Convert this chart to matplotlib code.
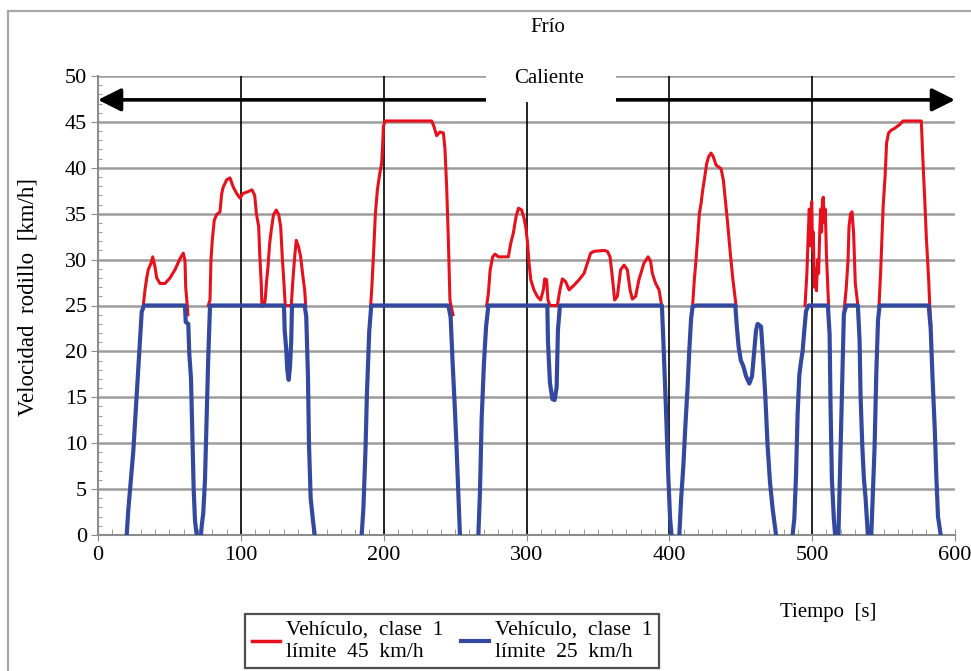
import numpy as np
import matplotlib.pyplot as plt
from matplotlib.lines import Line2D
from matplotlib.patches import Rectangle

plt.rcParams['font.family'] = ['Liberation Serif', 'DejaVu Serif']

# Vehicle class 1, speed limit 45 km/h (only the part above 25 km/h shows)
nan = np.nan
red_t = [31.7, 32.9, 34.1, 35.2, 37.1, 38.3, 39.9, 41.1, 43.4, 46.9, 50.4, 53.9, 57.4, 59.7, 60.9, 61.4, 62.5, 62.9, nan,
         77.2, 78.4, 79.1, 80.0, 81.4, 83.1, 85.4, 86.6, 87.7, 90.1, 92.4, 94.7, 97.1, 99.4, 101.5, 105.0, 107.8,
         109.7, 110.9, 112.5, 113.2, 114.3, 114.8, 116.5, 117.2, 117.9, 119.0, 120.2, 121.3, 122.9, 124.8, 126.5,
         127.9, 129.0, 130.2, 131.1, 135.3, 136.5, 137.7, 138.8, 140.4, 141.9, 143.5, 144.7, 145.4, nan,
         190.9, 191.8, 193.2, 194.2, 195.6, 197.2, 198.6, 199.3, 199.8, 201.0, 233.6, 235.2, 237.1, 239.4, 241.8,
         242.9, 244.1, 245.3, 246.4, 247.1, 248.5, nan,
         272.1, 273.3, 274.5, 276.3, 278.0, 280.3, 287.3, 289.0, 290.8, 292.7, 294.4, 296.6, 298.3, 299.5, 300.6,
         301.8, 303.0, 305.2, 307.5, 309.9, 311.8, 312.7, 314.1, 315.0, 316.4, 321.6, 323.4, 325.1, 327.4, 329.8,
         333.2, 336.8, 340.3, 342.6, 344.9, 347.3, 354.3, 356.6, 358.5, 360.1, 361.7, 363.6, 365.9, 368.3, 370.6,
         372.5, 374.1, 376.4, 378.7, 382.2, 385.1, 386.9, 388.1, 390.4, 392.8, 394.4, nan,
         416.3, 417.5, 418.7, 419.9, 421.0, 422.2, 423.4, 424.5, 426.2, 427.5, 429.2, 430.8, 432.7, 436.2, 437.8,
         439.2, 440.8, 442.5, 444.3, 446.0, 446.7, nan,
         495.0, 496.3, 497.3, 498.0, 498.5, 499.1, 499.7, 500.3, 500.8, 501.5, 502.3, 503.0, 503.8, 504.5, 505.3,
         506.0, 506.6, 507.2, 507.8, 508.5, 509.2, 510.0, 510.8, 511.5, nan,
         522.2, 523.9, 525.1, 525.8, 526.9, 527.9, 529.0, 530.2, 532.0, nan,
         546.8, 547.9, 548.8, 549.7, 551.1, 552.1, 553.5, 555.4, 557.7, 561.2, 563.6, 576.4, 577.6, 578.8, 579.9,
         581.6, 582.3, 583.2]
red_v = [25, 26.7, 28, 28.9, 29.6, 30.3, 29.2, 28, 27.4, 27.4, 28, 28.9, 30.1, 30.7, 29.9, 27, 25, 24, nan,
         25, 25.6, 30, 32.1, 34.3, 34.9, 35.2, 37.2, 37.9, 38.7, 38.9, 37.9, 37.2, 36.7, 37.2, 37.4, 37.6,
         37.0, 35.0, 33.6, 30.7, 27.4, 24.9, 25, 25.9, 27.4, 29.2, 31.8, 33.2, 34.9, 35.4, 34.9,
         33.6, 30.3, 27.4, 25, 25, 27.9, 30.3, 32.1, 31.4, 30.3, 28.1, 26.7, 25, nan,
         25, 27.2, 31.6, 35.0, 37.6, 39.3, 40.5, 42.5, 44.5, 45.1, 45.1, 44.5, 43.5, 43.9, 43.8,
         42.1, 37.9, 32.1, 25.6, 25, 24, nan,
         25, 26.3, 28.8, 30.3, 30.6, 30.3, 30.3, 31.8, 32.9, 34.7, 35.6, 35.4, 34.5, 33.5, 32,
         29.6, 27.8, 26.7, 26.0, 25.6, 26.7, 27.9, 27.8, 25.6, 25, 25, 26.7, 27.9, 27.6, 26.7,
         27.2, 27.8, 28.5, 29.6, 30.7, 30.9, 31.0, 30.9, 30.3, 28.1, 25.6, 26, 28.9, 29.4, 28.9,
         26.7, 25.7, 26.0, 27.8, 29.6, 30.3, 29.8, 28.5, 27.4, 26.7, 25.2, nan,
         25, 27.8, 30, 32.5, 35, 36.1, 37.6, 38.7, 40.5, 41.2, 41.6, 41.2, 40.3, 39.9, 38.7,
         36.5, 34, 31, 28.1, 25.9, 25, nan,
         25, 28.5, 33, 35.5, 31.5, 35, 36.3, 31, 33, 27, 29, 26.6, 30, 28.5, 33,
         35.5, 33, 36.5, 36.8, 34, 35.5, 30.5, 27.5, 25, nan,
         24.1, 27, 29.9, 33.6, 35, 35.2, 32.9, 27.4, 25, nan,
         25, 28.5, 32.1, 35.8, 39.2, 42.7, 43.8, 44.1, 44.3, 44.7, 45.1, 45.1, 40.6, 36.6, 32.5,
         27.7, 25, 22.8]

# Vehicle class 1, speed limit 25 km/h
blue_t = [20.1, 21.2, 22.9, 24.7, 25.9, 27.1, 28.2, 29.4, 30.6, 32.2, 60.9, 61.4, 63.2, 63.9, 65.1, 66.0, 67.0,
          67.9, 69.1, nan,
          72.1, 72.6, 73.7, 74.9, 76.1, 77.2, 78.4, 79.0, 130.2, 130.7, 131.8, 132.5, 133.5, 134.4, 135.3, 135.8,
          144.7, 145.8, 147.0, 147.7, 148.9, 150.5, 151.7, nan,
          184.6, 185.8, 187.3, 188.3, 189.9, 191.3, 245.3, 246.9, 248.3, 249.9, 251.1, 252.3, 253.4, nan,
          266.3, 267.4, 268.6, 270.2, 271.7, 273.3, 314.6, 315.0, 316.4, 318.1, 319.7, 321.1, 322.0, 323.4,
          394.8, 395.8, 397.6, 399.3, 400.5, 401.5, nan,
          407.0, 408.2, 409.8, 411.2, 412.8, 414.0, 415.2, 416.3, 418.7, 446.2, 447.1, 448.5, 450.1, 451.8, 453.7,
          456.0, 457.9, 459.5, 460.7, 461.8, 464.2, 465.3, 467.2, 468.8, 470.5, 472.3, 474.7, nan,
          486.3, 487.5, 488.7, 489.8, 491.0, 492.2, 493.3, 494.5, 495.7, 497.5, 511.0, 512.2, 512.9, 513.8, 515.2,
          516.1, nan,
          518.4, 519.4, 520.4, 521.5, 522.2, 523.9, 532.0, 533.2, 533.9, 535.1, 536.2, 537.4, 539.0, nan,
          541.4, 542.5, 543.7, 544.9, 546.1, 547.2, 581.6, 583.0, 584.2, 585.9, 587.0, 588.1, 590.0]
blue_v = [0, 2.7, 5.8, 9.1, 12.2, 15.3, 18.3, 21.4, 24.3, 25, 25, 23.2, 23, 19.8, 17.1, 11.3, 4.9,
          1.6, 0, nan,
          0, 1, 2.4, 6, 12.9, 19.4, 24.9, 25, 25, 22.3, 20.2, 18.0, 16.9, 18.3, 21.2, 25,
          25, 23.8, 17.3, 10, 4, 1.6, 0, nan,
          0, 2.9, 9.4, 15.5, 22.2, 25, 25, 23.7, 18.7, 13.6, 9.3, 4.6, 0, nan,
          0, 4.6, 12.6, 18.7, 22.7, 25, 25, 21.2, 16.6, 14.8, 14.7, 16.1, 22.3, 25,
          25, 21.2, 13.9, 6.3, 1.9, 0, nan,
          0, 3.8, 7.5, 11.8, 16.2, 20.2, 23.5, 24.9, 25, 25, 23, 20.5, 19.0, 18.4, 17.3,
          16.5, 17.3, 20.2, 22.3, 23, 22.7, 20.2, 15.1, 9.7, 5.7, 2.9, 0, nan,
          0, 1.8, 6.5, 13.1, 17.4, 18.9, 20, 22.3, 24.4, 25, 25, 21.9, 13.8, 6.1, 1.7,
          0, nan,
          0, 6.1, 12.6, 19.9, 24.1, 25, 25, 21.2, 15.1, 9.7, 6.2, 4, 0, nan,
          0, 4.6, 9.6, 17.6, 23.4, 25, 25, 22.4, 17.4, 11.3, 6.1, 2, 0]

red_label = 'Vehículo,  clase  1\nlímite  45  km/h'
blue_label = 'Vehículo,  clase  1\nlímite  25  km/h'
red_color = '#e8101c'
blue_color = '#3349a0'

fig = plt.figure(figsize=(9.71, 6.71), dpi=100)
ax = fig.add_axes([98 / 971, 136 / 671, 857 / 971, 459 / 671])

# outer gray frame of the figure
fig.add_artist(Rectangle((8 / 971, -0.05), 1.2, 1.05 - 11 / 671, transform=fig.transFigure,
                         fill=False, edgecolor='#a8a8a8', lw=1.6))

ax.plot(red_t, red_v, color=red_color, lw=2.2, zorder=3)
ax.plot(blue_t, blue_v, color=blue_color, lw=3.0, zorder=4)

ax.set_xlim(0, 600)
ax.set_ylim(0, 50)
ax.set_xticks(range(0, 601, 100))
ax.set_xticks(range(0, 601, 10), minor=True)
ax.set_yticks(range(0, 51, 5))
ax.set_yticks(range(0, 51, 1), minor=True)

ax.yaxis.grid(True, color='#9c9c9c', lw=1.8, zorder=1)
ax.set_axisbelow(True)
for x in range(100, 600, 100):
    ax.axvline(x, color='black', lw=1.2, zorder=2)

for side in ['top', 'right']:
    ax.spines[side].set_visible(False)
for side in ['left', 'bottom']:
    ax.spines[side].set_color('#8c8c8c')
    ax.spines[side].set_linewidth(1.5)

ax.tick_params(axis='y', which='major', direction='out', length=5, color='#8c8c8c', labelsize=16, pad=3)
ax.tick_params(axis='y', which='minor', direction='in', length=3, color='#8c8c8c')
ax.tick_params(axis='x', which='major', direction='inout', length=8, color='#8c8c8c', labelsize=16, pad=4)
ax.tick_params(axis='x', which='minor', direction='in', length=4, color='#8c8c8c')

# double arrow for the hot part and its label
ax.annotate('', xy=(0, 47.4), xytext=(600, 47.4),
            arrowprops=dict(arrowstyle='<|-|>,head_length=0.7,head_width=0.35', color='black',
                            lw=2.6, mutation_scale=20, shrinkA=0, shrinkB=0),
            annotation_clip=False, zorder=5)
ax.add_patch(Rectangle((271.6, 47.2), 91.0, 3.3, facecolor='white', edgecolor='none',
                       zorder=6, clip_on=False))
ax.text(316, 49.7, 'Caliente', ha='center', va='center', fontsize=15, zorder=7)

fig.text(548 / 971, 1 - 28 / 671, 'Frío', ha='center', va='center', fontsize=15)
fig.text(28 / 971, 1 - 297 / 671, 'Velocidad  rodillo  [km/h]', rotation=90,
         ha='center', va='center', fontsize=16.5)
fig.text(828 / 971, 1 - 612 / 671, 'Tiempo  [s]', ha='center', va='center', fontsize=15)

handles = [Line2D([], [], color=red_color, lw=2.5), Line2D([], [], color=blue_color, lw=3.0)]
leg = fig.legend(handles, [red_label, blue_label], loc='lower center', ncol=2,
                 bbox_to_anchor=(452 / 971, 3 / 671), borderaxespad=0, fontsize=15.5,
                 frameon=True, fancybox=False, handlelength=1.3, handletextpad=0.3,
                 columnspacing=0.8, borderpad=0.3, labelspacing=0.2)
leg.get_frame().set_edgecolor('#222222')
leg.get_frame().set_linewidth(1.6)

fig.savefig('out.png', dpi=100)
